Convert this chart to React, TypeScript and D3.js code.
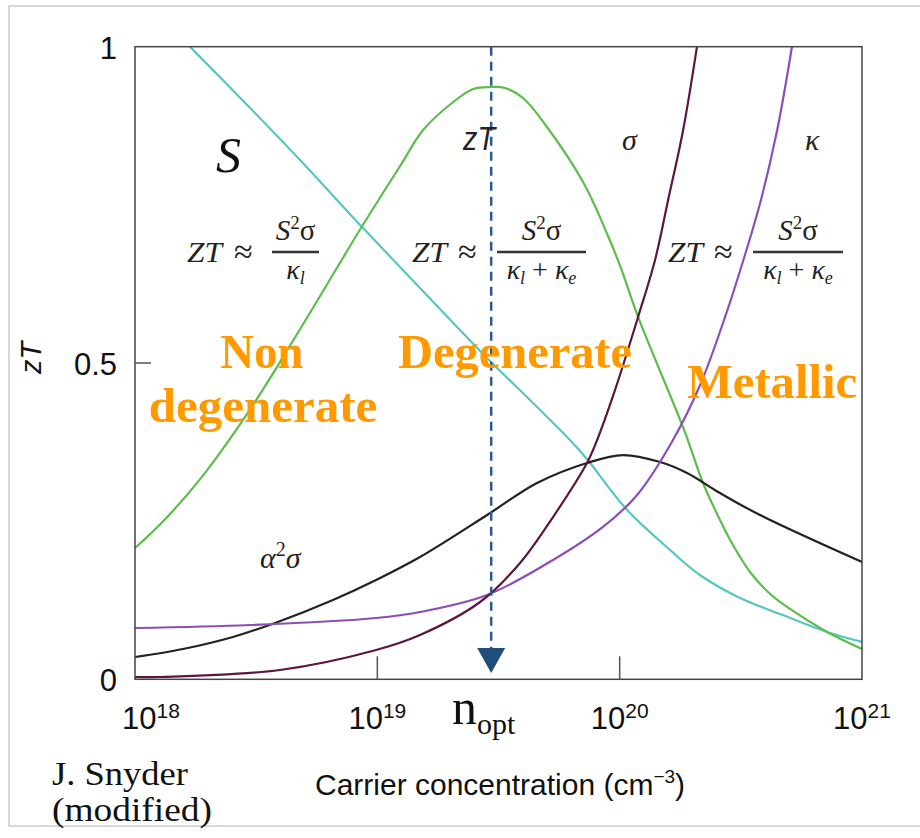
import React from 'react';
import * as d3 from 'd3';

// log10 of carrier concentration (cm^-3) and value
const zTExp = [18.0, 18.103, 18.268, 18.475, 18.681, 18.937, 19.094, 19.189, 19.308, 19.395, 19.465, 19.527, 19.601, 19.7, 19.849, 19.952, 20.002, 20.076, 20.266, 20.344, 20.414, 20.456, 20.538, 20.621, 20.703, 20.856, 21.0];
const zTVal = [0.2076, 0.2446, 0.3161, 0.4268, 0.5533, 0.7161, 0.8114, 0.8683, 0.911, 0.9331, 0.9363, 0.9347, 0.9189, 0.8731, 0.786, 0.7008, 0.6534, 0.5728, 0.3941, 0.3103, 0.2518, 0.2202, 0.1696, 0.1349, 0.1112, 0.0748, 0.0479];

const seebeckExp = [18.227, 18.475, 18.681, 18.937, 19.176, 19.461, 19.63, 19.795, 19.865, 20.031, 20.208, 20.331, 20.497, 20.662, 20.856, 21.0];
const seebeckVal = [1.0, 0.9031, 0.8209, 0.715, 0.6186, 0.5048, 0.4415, 0.3783, 0.3482, 0.2676, 0.2044, 0.1649, 0.1285, 0.1032, 0.0748, 0.059];

const pfExp = [18.0, 18.198, 18.404, 18.578, 18.817, 18.995, 19.176, 19.453, 19.659, 19.865, 20.014, 20.167, 20.278, 20.414, 20.579, 21.0];
const pfVal = [0.0352, 0.0479, 0.0669, 0.089, 0.1254, 0.157, 0.1933, 0.2597, 0.3103, 0.3419, 0.3545, 0.3434, 0.3261, 0.2945, 0.2597, 0.1854];

const sigmaExp = [18.0, 18.103, 18.598, 18.995, 19.176, 19.424, 19.589, 19.725, 19.865, 19.907, 19.981, 20.076, 20.146, 20.2, 20.262, 20.319];
const sigmaVal = [0.0036, 0.0036, 0.0147, 0.0463, 0.07, 0.1222, 0.1838, 0.2565, 0.3419, 0.3783, 0.4574, 0.5728, 0.6629, 0.7578, 0.8684, 1.0];

const kappaExp = [18.0, 18.475, 18.995, 19.176, 19.453, 19.725, 19.931, 20.072, 20.22, 20.332, 20.435, 20.517, 20.583, 20.65, 20.711];
const kappaVal = [0.0811, 0.0858, 0.0969, 0.1064, 0.1333, 0.1886, 0.2408, 0.2914, 0.3783, 0.4652, 0.5728, 0.6708, 0.7578, 0.8684, 1.0];

const xTicks = [1e18, 1e19, 1e20, 1e21];
const xTickExpLabels = ['18', '19', '20', '21'];
const yTicks = [0, 0.5, 1];
const yTickLabels = ['0', '0.5', '1'];
const nOpt = 2.95e19;

const series = [
  { exp: seebeckExp, val: seebeckVal, color: '#56c5c3' },
  { exp: zTExp, val: zTVal, color: '#5dbd4c' },
  { exp: pfExp, val: pfVal, color: '#222222' },
  { exp: kappaExp, val: kappaVal, color: '#8b4fb6' },
  { exp: sigmaExp, val: sigmaVal, color: '#5a1740' },
];

const SANS = 'Liberation Sans, Arial, sans-serif';
const SERIF = 'Liberation Serif, Times New Roman, serif';
const ORANGE = '#FF9900';

export default function App() {
  const L = 135, R = 862, T = 46.7, B = 679.3;
  const x = d3.scaleLog().domain([1e18, 1e21]).range([L, R]);
  const y = d3.scaleLinear().domain([0, 1]).range([B, T]);
  const line = d3
    .line<[number, number]>()
    .x((d) => x(d[0]))
    .y((d) => y(d[1]))
    .curve(d3.curveCatmullRom.alpha(0.5));

  const xLabelDx = [16, 0, 0, 0];
  const xo = x(nOpt);

  const formula = (zx: number, ax: number, b1: number, b2: number, simple: boolean, key: string) => {
    const cx = (b1 + b2) / 2;
    return (
      <g key={key} fill="#222">
        <text x={zx} y={262} fontFamily={SERIF} fontStyle="italic" fontSize={29} textLength={35} lengthAdjust="spacingAndGlyphs">ZT</text>
        <text x={ax} y={263} fontFamily={SERIF} fontSize={34}>≈</text>
        <line x1={b1} x2={b2} y1={252} y2={252} stroke="#333" strokeWidth={2.5} />
        <text x={cx} y={240} textAnchor="middle" fontFamily={SERIF} fontSize={29}>
          <tspan fontStyle="italic">S</tspan>
          <tspan fontSize={19} dy={-11}>2</tspan>
          <tspan dy={11}>σ</tspan>
        </text>
        {simple ? (
          <text x={cx} y={279} textAnchor="middle" fontFamily={SERIF} fontStyle="italic" fontSize={28}>
            κ<tspan fontSize={18} dy={5}>l</tspan>
          </text>
        ) : (
          <text x={cx} y={279} textAnchor="middle" fontFamily={SERIF} fontStyle="italic" fontSize={28}>
            κ<tspan fontSize={18} dy={5}>l</tspan>
            <tspan dy={-5} fontStyle="normal"> + </tspan>κ<tspan fontSize={18} dy={5}>e</tspan>
          </text>
        )}
      </g>
    );
  };

  return (
    <svg width={920} height={838} style={{ position: 'absolute', left: 0, top: 0, background: '#fff' }}>
      <rect x={9} y={6} width={960} height={820} fill="none" stroke="#cccccc" strokeWidth={1.5} />
      <defs>
        <clipPath id="plot">
          <rect x={L} y={T} width={R - L} height={B - T} />
        </clipPath>
      </defs>

      {/* curves */}
      <g clipPath="url(#plot)" fill="none" strokeWidth={2.2}>
        {series.map((s, i) => (
          <path
            key={i}
            d={line(s.exp.map((e, j) => [Math.pow(10, e), s.val[j]] as [number, number])) || ''}
            stroke={s.color}
          />
        ))}
      </g>

      {/* frame */}
      <rect x={L} y={T} width={R - L} height={B - T} fill="none" stroke="#444" strokeWidth={1.5} />
      {xTicks.slice(1, 3).map((t, i) => (
        <line key={i} x1={x(t)} x2={x(t)} y1={B} y2={B - 23} stroke="#555" strokeWidth={1.5} />
      ))}
      <line x1={L} x2={L + 16} y1={y(0.5)} y2={y(0.5)} stroke="#555" strokeWidth={1.5} />

      {/* x tick labels */}
      {xTicks.map((t, i) => (
        <text key={i} x={x(t) + xLabelDx[i]} y={729} textAnchor="middle" fontFamily={SANS} fontSize={31} fill="#111">
          10<tspan fontSize={21} dy={-11}>{xTickExpLabels[i]}</tspan>
        </text>
      ))}
      {/* y tick labels */}
      {yTicks.map((t, i) => (
        <text key={i} x={117} y={y(t) + 12} textAnchor="end" fontFamily={SANS} fontSize={31} fill="#111">
          {yTickLabels[i]}
        </text>
      ))}

      <text transform="translate(41,358) rotate(-90)" textAnchor="middle" fontFamily={SANS} fontStyle="italic" fontSize={29} fill="#111">
        zT
      </text>
      <text x={315} y={795} fontFamily={SANS} fontSize={30} fill="#111">
        Carrier concentration (cm<tspan fontSize={19} dy={-12}>−3</tspan>
        <tspan dy={12}>)</tspan>
      </text>

      <text x={52} y={785} fontFamily={SERIF} fontSize={34} fill="#111" textLength={136} lengthAdjust="spacingAndGlyphs">J. Snyder</text>
      <text x={52} y={821} fontFamily={SERIF} fontSize={34} fill="#111" textLength={160} lengthAdjust="spacingAndGlyphs">(modified)</text>

      {/* n_opt marker */}
      <line x1={xo} x2={xo} y1={T} y2={650} stroke="#2c5a8e" strokeWidth={2.5} strokeDasharray="9,6" />
      <path d={`M${xo - 14},648 L${xo + 14},648 L${xo},673 Z`} fill="#1f4e7a" />
      <text x={452} y={724} fontFamily={SERIF} fontSize={50} fill="#111">
        n<tspan fontSize={30} dy={10}>opt</tspan>
      </text>

      {/* curve labels */}
      <text x={216} y={172} fontFamily={SERIF} fontStyle="italic" fontSize={50} fill="#111">S</text>
      <text x={463} y={150} fontFamily={SANS} fontStyle="italic" fontSize={34} fill="#222" textLength={32} lengthAdjust="spacingAndGlyphs">zT</text>
      <text x={622} y={150} fontFamily={SERIF} fontStyle="italic" fontSize={30} fill="#222">σ</text>
      <text x={805} y={150} fontFamily={SERIF} fontStyle="italic" fontSize={30} fill="#222">κ</text>
      <text x={260} y={568} fontFamily={SERIF} fontStyle="italic" fontSize={30} fill="#222">
        α<tspan fontSize={20} fontStyle="normal" dy={-12}>2</tspan>
        <tspan dy={12}>σ</tspan>
      </text>

      {/* formulas */}
      {formula(187, 234, 272, 319, true, 'f1')}
      {formula(412, 458, 497, 586, false, 'f2')}
      {formula(668, 714, 753, 843, false, 'f3')}

      {/* regime labels */}
      <g fontFamily={SERIF} fontWeight="bold" fontSize={49} fill={ORANGE} textAnchor="middle">
        <text x={262} y={368} textLength={83} lengthAdjust="spacingAndGlyphs">Non</text>
        <text x={263} y={422}>degenerate</text>
        <text x={515} y={368} textLength={234} lengthAdjust="spacingAndGlyphs">Degenerate</text>
        <text x={772} y={398} textLength={170} lengthAdjust="spacingAndGlyphs">Metallic</text>
      </g>
    </svg>
  );
}
